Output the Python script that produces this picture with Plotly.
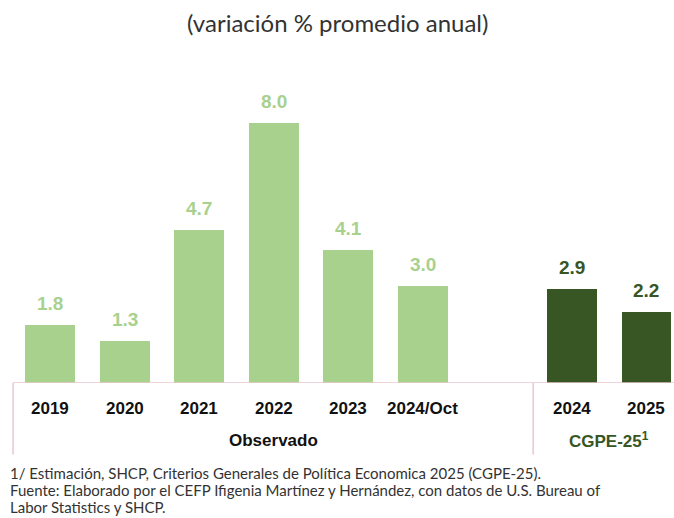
import plotly.graph_objects as go

categories = ["2019", "2020", "2021", "2022", "2023", "2024/Oct", "", "2024", "2025"]
values = [1.8, 1.3, 4.7, 8.0, 4.1, 3.0, None, 2.9, 2.2]
groups = ["obs", "obs", "obs", "obs", "obs", "obs", "gap", "est", "est"]
footnotes = [
    "1/ Estimación, SHCP, Criterios Generales de Política Economica 2025 (CGPE-25).",
    "Fuente: Elaborado por el CEFP Ifigenia Martínez y Hernández, con datos de U.S. Bureau of",
    "Labor Statistics y SHCP.",
]

light = "#a9d18e"
dark = "#375623"
pink = "#e9c7cc"

xs = list(range(len(categories)))
colors = [light if g == "obs" else dark for g in groups]

fig = go.Figure()
fig.add_trace(go.Bar(
    x=xs, y=values, marker=dict(color=colors, line=dict(width=0)),
    width=0.67, hoverinfo="skip", showlegend=False,
))

cond = "Liberation Sans, Arial, sans-serif"
geo = "Lato, Noto Sans, sans-serif"

ann = []
for x, v, g in zip(xs, values, groups):
    if v is None:
        continue
    ann.append(dict(x=x, y=v, xref="x", yref="y", text=f"<b>{v:.1f}</b>",
                    showarrow=False, yanchor="bottom", yshift=9,
                    font=dict(family="Liberation Sans, Arial, sans-serif", size=19,
                              color=light if g == "obs" else dark)))
    ann.append(dict(x=x, y=0, xref="x", yref="y", text=f"<b>{categories[x]}</b>",
                    showarrow=False, yanchor="middle", yshift=-25,
                    font=dict(family=cond, size=17, color="#111111")))

ann.append(dict(x=3, y=0, xref="x", yref="y", text="<b>Observado</b>", showarrow=False,
                yanchor="middle", yshift=-57, font=dict(family=cond, size=17, color="#111111")))
ann.append(dict(x=7.5, y=0, xref="x", yref="y", text="<b>CGPE-25<sup>1</sup></b>", showarrow=False,
                yanchor="middle", yshift=-57, font=dict(family=cond, size=17, color=dark)))
ann.append(dict(x=0.5, y=1, xref="paper", yref="paper", yanchor="middle", yshift=36,
                text="(variación % promedio anual)", showarrow=False,
                font=dict(family=geo, size=24, color="#333333")))
for i, line in enumerate(footnotes):
    ann.append(dict(x=0.012, y=0, xref="paper", yref="paper", xanchor="left", yanchor="middle",
                    yshift=-90 - 17 * i, align="left", text=line, showarrow=False,
                    font=dict(family=geo, size=15, color="#333333")))

shapes = [
    dict(type="line", xref="x", yref="y", x0=-0.496, x1=8.4, y0=0, y1=0,
         line=dict(color=pink, width=1.5)),
]
for xv in [-0.496, 6.48]:
    shapes.append(dict(type="line", xref="x", yref="paper", x0=xv, x1=xv, y0=0, y1=-0.22,
                       line=dict(color=pink, width=1.5)))

fig.update_layout(
    width=674, height=518,
    margin=dict(l=0, r=0, t=58, b=135),
    paper_bgcolor="white", plot_bgcolor="white",
    xaxis=dict(range=[-0.671, 8.369], showticklabels=False, showgrid=False, zeroline=False,
               showline=False, fixedrange=True),
    yaxis=dict(range=[0, 10], visible=False, fixedrange=True),
    annotations=ann, shapes=shapes, bargap=0,
)

fig.write_html("out.html")
